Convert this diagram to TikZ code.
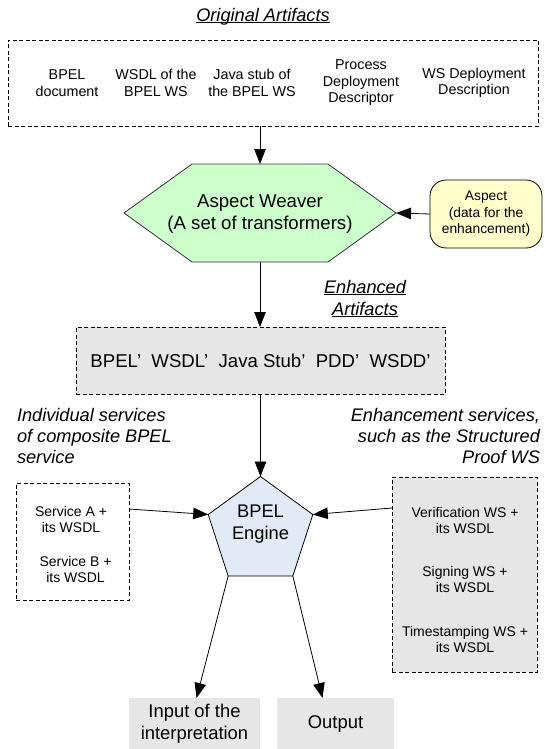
\documentclass[tikz,border=0pt]{standalone}
\usepackage{fontspec}
\setmainfont{Liberation Sans}
\usetikzlibrary{arrows.meta,shapes.geometric,calc}

\definecolor{weaverfill}{RGB}{204,255,204}
\definecolor{aspectfill}{RGB}{255,255,204}
\definecolor{boxgray}{RGB}{230,230,230}
\definecolor{enginefill}{RGB}{226,234,246}

% font size helper: size and baseline skip in pt
\newcommand{\fsz}[2]{\fontsize{#1}{#2}\selectfont}
% underline sitting just below the baseline (descenders ignored)
\newcommand{\ulin}[1]{\underline{\vphantom{A}\smash{#1}}}

\begin{document}
\begin{tikzpicture}[x=1pt,y=-1pt,
  every node/.style={inner sep=0pt, outer sep=0pt},
  dashbox/.style={draw, line width=0.8pt, dash pattern=on 4pt off 2.5pt},
  arr/.style={line width=0.8pt, -{Triangle[length=15pt,width=11.5pt]}},
  item/.style={align=center, font=\fsz{14.3}{16.5}},
  small/.style={align=center, font=\fsz{14}{15.5}},
  big/.style={align=center, font=\fsz{18.4}{21.5}},
  caption/.style={font=\fsz{18.2}{20.7}\itshape}]

\useasboundingbox (0,0) rectangle (544,749);

% ---- original artifacts ----
\node[caption] (title) at (263,16) {\ulin{Original Artifacts}};
\node[dashbox, minimum width=530pt, minimum height=86pt] (orig) at (273,83) {};
\node[item] (i1) at (67,83) {BPEL\\document};
\node[item] (i2) at (156,83) {WSDL of the\\BPEL WS};
\node[item] (i3) at (252,83) {Java stub of\\the BPEL WS};
\node[item] (i4) at (361,83) {Process\\Deployment\\Descriptor};
\node[item] (i5) at (474,83) {WS Deployment\\Description};

% ---- aspect weaver (hexagon) ----
\coordinate (hexT) at (260,164);
\coordinate (hexB) at (260,262);
\coordinate (hexR) at (396,213);
\draw[fill=weaverfill, line width=0.8pt, draw=black!80]
  (192,164) -- (328,164) -- (hexR) -- (328,262) -- (192,262) -- (124,213) -- cycle;
\node[big, font=\fsz{18.6}{22}] (weaver) at (260,214) {Aspect Weaver\\(A set of transformers)};

\node[draw, line width=0.8pt, fill=aspectfill, rounded corners=16pt,
      minimum width=112pt, minimum height=68pt] (aspect) at (486,214) {};
\node[align=center, font=\fsz{13.8}{16.5}] (aspecttxt) at (486,214)
  {Aspect\\(data for the\\enhancement)};

% ---- enhanced artifacts ----
\node[caption, align=center, font=\fsz{18.2}{22}\itshape] (enhcap) at (365,299)
  {\ulin{Enhanced}\\\ulin{Artifacts}};
\node[dashbox, fill=boxgray, minimum width=369pt, minimum height=67pt,
      font=\fsz{18.6}{21}] (enhanced) at (260.5,360.5)
  {BPEL’~~WSDL’~~Java Stub’~~PDD’~~WSDD’};

% ---- BPEL engine (pentagon) ----
\node[regular polygon, regular polygon sides=5, minimum size=110pt,
      draw, line width=0.8pt, fill=enginefill] (engine) at (260.5,531.5) {};
\node[big, font=\fsz{18.3}{22}] (enginetxt) at (260.5,524) {BPEL\\Engine};

% ---- side captions ----
\node[caption, align=left, anchor=west] (leftcap) at (17,436)
  {Individual services\\of composite BPEL\\service};
\node[caption, align=right, anchor=east] (rightcap) at (540,436)
  {Enhancement services,\\such as the Structured\\Proof WS};

% ---- individual services ----
\node[dashbox, minimum width=113pt, minimum height=117pt] (svc) at (72.5,541.5) {};
\node[small] (svcA) at (71,519.5) {Service A +\\its WSDL};
\node[small] (svcB) at (75.5,569.5) {Service B +\\its WSDL};

% ---- enhancement services ----
\node[dashbox, fill=boxgray, minimum width=145pt, minimum height=195pt] (ehs) at (464.5,574.5) {};
\node[small] (verif) at (465,520.5) {Verification WS +\\its WSDL};
\node[small] (sign) at (465,579.5) {Signing WS +\\its WSDL};
\node[small] (stamp) at (465,639.5) {Timestamping WS +\\its WSDL};

% ---- results ----
\node[fill=boxgray, minimum width=131pt, minimum height=51pt] (input) at (194.5,723.5) {};
\node[big, font=\fsz{18.4}{22}] (inputtxt) at (194.5,724) {Input of the\\interpretation};
\node[fill=boxgray, minimum width=117pt, minimum height=51pt, font=\fsz{18.4}{22}]
  (output) at (335.5,723.5) {Output};

% ---- connectors ----
\draw[arr] (orig.south -| hexT) -- (hexT);
\draw[arr] (aspect.west) -- (hexR);
\draw[arr] (hexB) -- (enhanced.north -| hexB);
\draw[arr] (enhanced.south -| engine.corner 1) -- (engine.corner 1);
\draw[arr] ([yshift=32.5pt]svc.east) -- (engine.corner 2);
\draw[arr] ([yshift=66.5pt]ehs.west) -- (engine.corner 5);
\draw[arr] (engine.corner 3) -- ([xshift=2pt]input.north);
\draw[arr] (engine.corner 4) -- ([xshift=-13pt]output.north);

\end{tikzpicture}
\end{document}
